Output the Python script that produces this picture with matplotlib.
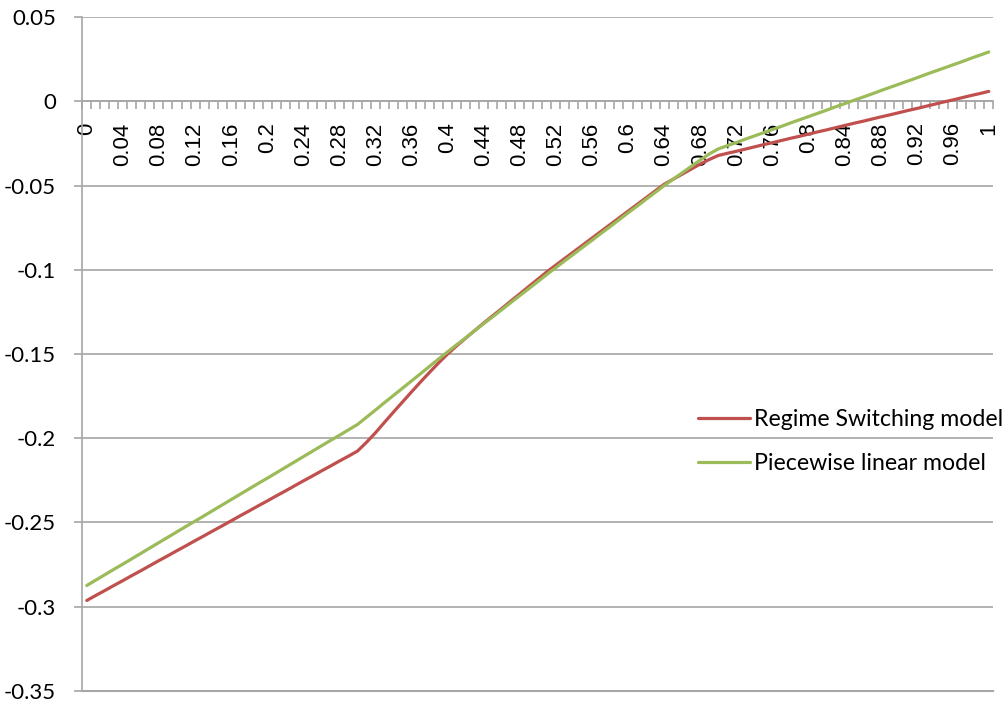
import numpy as np
import matplotlib.pyplot as plt
from matplotlib.ticker import FixedLocator, FuncFormatter

# x categories 0, 0.01, ..., 1.00
x_vals = [round(0.01 * i, 2) for i in range(101)]

regime_switching = [
    -0.2964, -0.2934, -0.2905, -0.2875, -0.2846, -0.2816, -0.2787, -0.2757, -0.2727, -0.2698,
    -0.2668, -0.2639, -0.2609, -0.2580, -0.2550, -0.2521, -0.2491, -0.2461, -0.2432, -0.2402,
    -0.2373, -0.2343, -0.2314, -0.2284, -0.2254, -0.2225, -0.2195, -0.2166, -0.2136, -0.2107,
    -0.2077, -0.2025, -0.1968, -0.1906, -0.1845, -0.1785, -0.1725, -0.1666, -0.1609, -0.1553,
    -0.1500, -0.1452, -0.1406, -0.1361, -0.1316, -0.1273, -0.1230, -0.1186, -0.1143, -0.1099,
    -0.1056, -0.1012, -0.0972, -0.0932, -0.0892, -0.0852, -0.0812, -0.0772, -0.0732, -0.0692,
    -0.0652, -0.0612, -0.0572, -0.0532, -0.0492, -0.0462, -0.0432, -0.0402, -0.0372, -0.0345,
    -0.0321, -0.0308, -0.0296, -0.0283, -0.0270, -0.0257, -0.0245, -0.0232, -0.0219, -0.0207,
    -0.0194, -0.0181, -0.0169, -0.0156, -0.0143, -0.0130, -0.0118, -0.0105, -0.0092, -0.0080,
    -0.0067, -0.0054, -0.0042, -0.0029, -0.0016, -0.0003, 0.0009, 0.0022, 0.0035, 0.0047,
    0.0060,
]

piecewise_linear = [
    -0.2875, -0.2843, -0.2811, -0.2779, -0.2748, -0.2716, -0.2684, -0.2652, -0.2620, -0.2588,
    -0.2556, -0.2524, -0.2493, -0.2461, -0.2429, -0.2397, -0.2365, -0.2333, -0.2301, -0.2269,
    -0.2238, -0.2206, -0.2174, -0.2142, -0.2110, -0.2078, -0.2046, -0.2014, -0.1983, -0.1951,
    -0.1919, -0.1876, -0.1833, -0.1789, -0.1746, -0.1703, -0.1660, -0.1617, -0.1573, -0.1530,
    -0.1487, -0.1445, -0.1404, -0.1362, -0.1320, -0.1279, -0.1237, -0.1195, -0.1153, -0.1112,
    -0.1070, -0.1028, -0.0987, -0.0946, -0.0906, -0.0865, -0.0825, -0.0784, -0.0744, -0.0703,
    -0.0662, -0.0622, -0.0581, -0.0541, -0.0500, -0.0462, -0.0424, -0.0386, -0.0348, -0.0312,
    -0.0282, -0.0263, -0.0244, -0.0224, -0.0205, -0.0186, -0.0167, -0.0148, -0.0128, -0.0109,
    -0.0090, -0.0071, -0.0052, -0.0032, -0.0013, 0.0006, 0.0025, 0.0044, 0.0064, 0.0083,
    0.0102, 0.0121, 0.0140, 0.0160, 0.0179, 0.0198, 0.0217, 0.0236, 0.0256, 0.0275,
    0.0294,
]

y_ticks = [0.05, 0, -0.05, -0.1, -0.15, -0.2, -0.25, -0.3, -0.35]
x_label_ticks = x_vals[::4]

grid_col = "#a6a6a6"

fig = plt.figure(figsize=(10.08, 7.05), dpi=100)
ax = fig.add_axes([82.3 / 1008, 1 - 690.7 / 705, (993.3 - 82.3) / 1008, (690.7 - 17.3) / 705])

ax.plot(x_vals, regime_switching, color="#c0504d", lw=2.3, label="Regime Switching model",
        solid_capstyle="round", zorder=3)
ax.plot(x_vals, piecewise_linear, color="#9bbb59", lw=2.3, label="Piecewise linear model",
        solid_capstyle="round", zorder=3)

ax.set_xlim(-0.005, 1.005)
ax.set_ylim(-0.35, 0.05)

# y axis
ax.set_yticks(y_ticks)
ax.yaxis.set_major_formatter(FuncFormatter(lambda v, p: "0" if abs(v) < 1e-9 else ("%g" % v)))
ax.grid(axis="y", color=grid_col, lw=1.2)
ax.set_axisbelow(True)
ax.tick_params(axis="y", direction="out", length=6, width=1.2, color=grid_col, pad=13,
               labelsize=16)
for lab in ax.get_yticklabels():
    lab.set_family("Lato")

# x axis crossing at zero
ax.spines["bottom"].set_position(("data", 0))
for s in ["top", "right"]:
    ax.spines[s].set_visible(False)
ax.spines["left"].set_color(grid_col)
ax.spines["bottom"].set_color(grid_col)
ax.spines["left"].set_linewidth(1.2)
ax.spines["bottom"].set_linewidth(1.2)

ax.xaxis.set_major_locator(FixedLocator(x_label_ticks))
ax.xaxis.set_major_formatter(FuncFormatter(lambda v, p: "%g" % round(v, 2)))
ax.xaxis.set_minor_locator(FixedLocator([-0.005 + 0.01 * k for k in range(102)]))
ax.tick_params(axis="x", which="major", length=0, pad=15, labelsize=16, labelrotation=90)
ax.tick_params(axis="x", which="minor", direction="out", length=6, width=1.2, color=grid_col)
for lab in ax.get_xticklabels():
    lab.set_family("Liberation Sans")

# bottom line at -0.35
ax.axhline(-0.35, color=grid_col, lw=1.5, clip_on=False, zorder=1)

leg = ax.legend(loc="upper left", bbox_to_anchor=(698 / 1008, 1 - 409 / 705),
                bbox_transform=fig.transFigure, frameon=False, borderpad=0, borderaxespad=0,
                handlelength=2.25, handletextpad=0.15, labelspacing=1.0,
                prop={"family": "Lato", "size": 16.7})

fig.savefig("out.png", dpi=100)
